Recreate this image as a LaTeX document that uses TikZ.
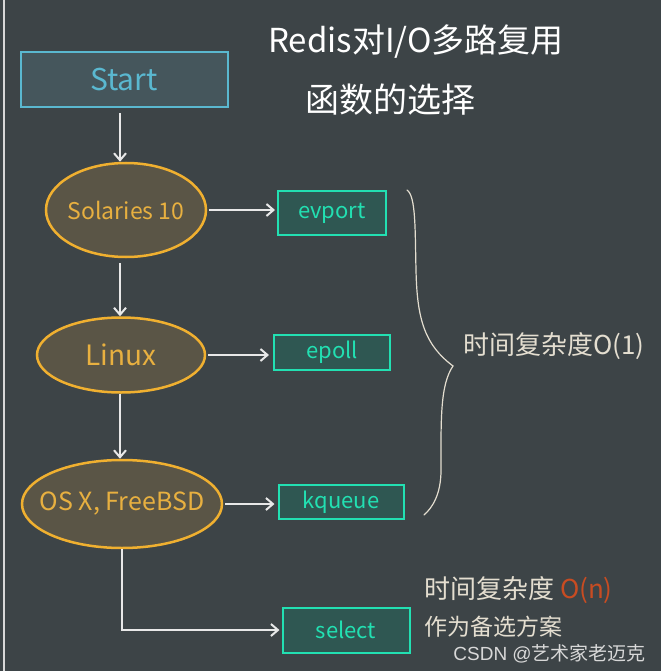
\documentclass[tikz,border=0pt]{standalone}
\usepackage{fontspec}
\setmainfont{Noto Sans CJK SC}
\newfontfamily\wmfont{Liberation Sans}
\usetikzlibrary{shapes.geometric,arrows.meta}
\definecolor{bg}{HTML}{3D4447}
\definecolor{startfill}{HTML}{45565C}
\definecolor{startline}{HTML}{5AB8D0}
\definecolor{ellfill}{HTML}{5A5546}
\definecolor{ellline}{HTML}{F0B030}
\definecolor{ellText}{HTML}{E8B040}
\definecolor{boxfill}{HTML}{2F5752}
\definecolor{boxline}{HTML}{22E0B2}
\definecolor{arrowc}{HTML}{E8E8E8}
\definecolor{notec}{HTML}{E4DED0}
\definecolor{onc}{HTML}{C84C22}
\definecolor{wmc}{HTML}{D8D8D8}
\tikzset{
  startbox/.style={draw=startline, fill=startfill, line width=2pt, minimum width=207pt, minimum height=55pt, inner sep=0pt, text=startline, font=\fontsize{30}{34}\selectfont},
  osell/.style={ellipse, draw=ellline, fill=ellfill, line width=2.5pt, inner sep=0pt, text=ellText, font=\fontsize{23}{27}\selectfont},
  funcbox/.style={draw=boxline, fill=boxfill, line width=2pt, inner sep=0pt, text=boxline, font=\fontsize{22}{26}\selectfont},
  flow/.style={draw=arrowc, line width=2pt, -{Straight Barb[length=7pt,width=12pt,line width=2pt]}},
  note/.style={text=notec, inner sep=0pt, anchor=west},
}
\begin{document}
\begin{tikzpicture}[x=1pt,y=-1pt]
\fill[bg] (0,0) rectangle (661,671);
\useasboundingbox (0,0) rectangle (661,671);
\fill[wmc] (3,0) rectangle (5,671);

% title
\node[text=white, inner sep=0pt, anchor=west, font=\fontsize{33}{37}\selectfont] (title1) at (268,42) {Redis对I/O多路复用};
\node[text=white, inner sep=0pt, anchor=west, font=\fontsize{34}{38}\selectfont] (title2) at (305,100) {函数的选择};

% nodes
\node[startbox] (start) at (124,80) {Start};
\node[osell, minimum width=160pt, minimum height=94pt, inner xsep=-8pt] (sol) at (126,210) {Solaries 10};
\node[osell, minimum width=168pt, minimum height=75pt, font=\fontsize{28}{32}\selectfont] (linux) at (121,355) {Linux};
\node[osell, minimum width=200pt, minimum height=88pt, inner xsep=-22pt, font=\fontsize{25}{29}\selectfont] (osx) at (122,504) {OS X, FreeBSD};

\node[funcbox, minimum width=108pt, minimum height=44pt] (evport) at (332,213) {evport};
\node[funcbox, minimum width=116pt, minimum height=35pt] (epoll) at (332,352) {epoll};
\node[funcbox, minimum width=125pt, minimum height=34pt] (kqueue) at (341,502) {kqueue};
\node[funcbox, minimum width=127pt, minimum height=45pt] (select) at (346,630) {select};

% connectors
\draw[flow, shorten <=5pt] (start.south -| 120,0) -- (sol.north -| 120,0);
\draw[flow, shorten <=5pt] (sol.south -| 120,0) -- (linux.north -| 120,0);
\draw[flow] (linux.south -| 120,0) -- (osx.north -| 120,0);
\draw[flow, shorten <=2pt, shorten >=2pt] (sol.east) -- (sol.east -| evport.west);
\draw[flow, shorten <=2pt, shorten >=4pt] (linux.east) -- (linux.east -| epoll.west);
\draw[flow, shorten <=2pt, shorten >=3pt] (osx.east) -- (osx.east -| kqueue.west);
\draw[flow, shorten >=2pt] (osx.south) |- (select.west);

% brace
\coordinate (btop) at (407,190);
\coordinate (btip) at (453,366);
\coordinate (bbot) at (424,515);
\draw[notec, line width=1.2pt, line cap=round]
  (btop) .. controls (416,196) and (415,230) .. (416,270)
  .. controls (417,320) and (425,345) .. (btip)
  .. controls (440,385) and (441,420) .. (441,470)
  .. controls (441,495) and (432,508) .. (bbot);

% notes
\node[note, font=\fontsize{26}{30}\selectfont] (o1) at (463,346) {时间复杂度O(1)};
\node[note, font=\fontsize{26}{30}\selectfont] (on) at (424,590) {时间复杂度 \textcolor{onc}{O(n)}};
\node[note, font=\fontsize{23}{27}\selectfont] (alt) at (424,627) {作为备选方案};

% watermark
\node[text=wmc, inner sep=0pt, anchor=east, font=\fontsize{19}{22}\selectfont] (wm) at (646,654) {{\wmfont CSDN @}艺术家老迈克};
\end{tikzpicture}
\end{document}
